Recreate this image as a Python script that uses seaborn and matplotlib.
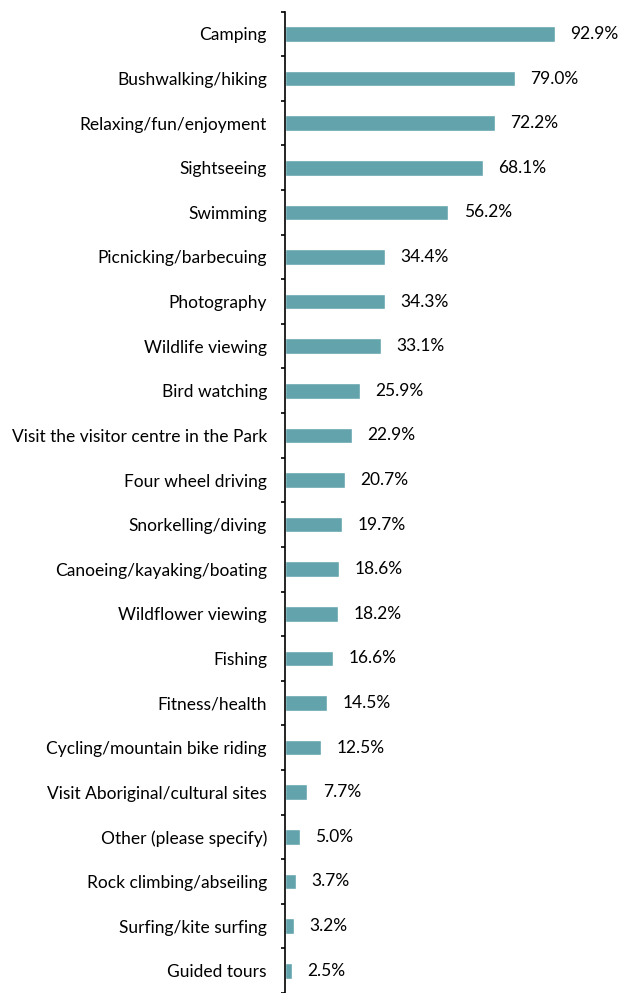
import numpy as np
import pandas as pd
import matplotlib
matplotlib.use("Agg")
import matplotlib.pyplot as plt
import seaborn as sns

activities = [
    "Camping", "Bushwalking/hiking", "Relaxing/fun/enjoyment", "Sightseeing",
    "Swimming", "Picnicking/barbecuing", "Photography", "Wildlife viewing",
    "Bird watching", "Visit the visitor centre in the Park", "Four wheel driving",
    "Snorkelling/diving", "Canoeing/kayaking/boating", "Wildflower viewing",
    "Fishing", "Fitness/health", "Cycling/mountain bike riding",
    "Visit Aboriginal/cultural sites", "Other (please specify)",
    "Rock climbing/abseiling", "Surfing/kite surfing", "Guided tours",
]
percent = [
    92.9, 79.0, 72.2, 68.1, 56.2, 34.4, 34.3, 33.1, 25.9, 22.9, 20.7,
    19.7, 18.6, 18.2, 16.6, 14.5, 12.5, 7.7, 5.0, 3.7, 3.2, 2.5,
]

df = pd.DataFrame({"activity": activities, "percent": percent})

sns.set_style("white")
plt.rcParams["font.family"] = ["Lato", "DejaVu Sans"]

fig = plt.figure(figsize=(6.19, 9.93), dpi=100)
ax = fig.add_axes([0.4604, 0.0, 0.4697, 0.9883])

sns.barplot(data=df, x="percent", y="activity", orient="h",
            color="#62A3AC", saturation=1, width=0.35, ax=ax)

ax.set_xlim(0, 100)
n = len(activities)
ax.set_ylim(21.424, -0.5)

for side in ("top", "right", "bottom"):
    ax.spines[side].set_visible(False)
ax.spines["left"].set_color("black")
ax.spines["left"].set_linewidth(1.2)

ax.set_xticks([])
ax.set_xlabel("")
ax.set_ylabel("")
ax.tick_params(axis="y", which="major", left=False, length=0, pad=13,
               labelsize=12.5, labelcolor="black")
ax.set_yticks(np.arange(-0.5, n, 1.0), minor=True)
ax.tick_params(axis="y", which="minor", left=True, length=3.2, width=1.2,
               color="black")

ax.bar_label(ax.containers[0], labels=[f"{v:.1f}%" for v in percent],
             padding=11, fontsize=12.5, color="black")

fig.savefig("out.png", dpi=100)
